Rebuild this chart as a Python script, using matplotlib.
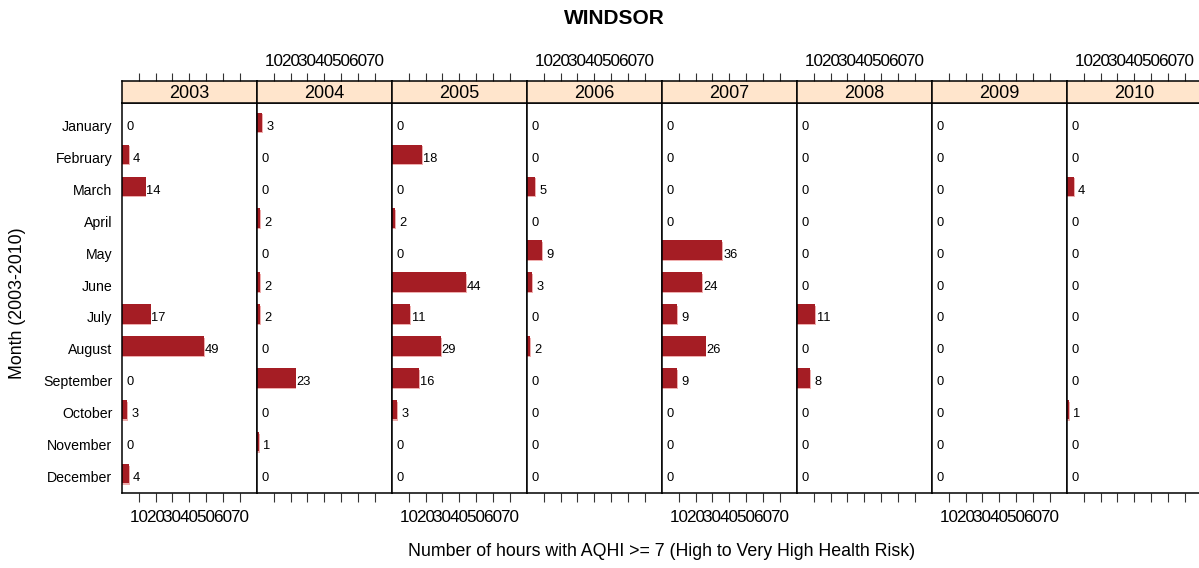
import numpy as np
import matplotlib.pyplot as plt
from matplotlib.transforms import ScaledTranslation

plt.rcParams['font.family'] = ['Liberation Sans', 'DejaVu Sans']

# ------------------------------------------
# DATA: hours with AQHI >= 7 per month, Windsor
# ------------------------------------------

months = ["January", "February", "March", "April", "May", "June", "July",
          "August", "September", "October", "November", "December"]

years = ["2003", "2004", "2005", "2006", "2007", "2008", "2009", "2010"]

h2003 = [0, 4, 14, np.nan, np.nan, np.nan, 17, 49, 0, 3, 0, 4]
h2004 = [3, 0, 0, 2, 0, 2, 2, 0, 23, 0, 1, 0]
h2005 = [0, 18, 0, 2, 0, 44, 11, 29, 16, 3, 0, 0]
h2006 = [0, 0, 5, 0, 9, 3, 0, 2, 0, 0, 0, 0]
h2007 = [0, 0, 0, 0, 36, 24, 9, 26, 9, 0, 0, 0]
h2008 = [0, 0, 0, 0, 0, 0, 11, 0, 8, 0, 0, 0]
h2009 = [0, 0, 0, 0, 0, 0, 0, 0, 0, 0, 0, 0]
h2010 = [0, 0, 4, 0, 0, 0, 0, 0, 0, 1, 0, 0]

hours = [h2003, h2004, h2005, h2006, h2007, h2008, h2009, h2010]

tick_vals = [10, 20, 30, 40, 50, 60, 70]

# ------------------------------------------
# LAYOUT (pixel based, 1199 x 568)
# ------------------------------------------

W, H = 1199, 568
fig = plt.figure(figsize=(W / 100, H / 100), dpi=100)

left_px = 122
panel_w = 135
top_px = 103
bottom_px = 493
strip_h = 22

bar_col = "#A51D24"
shadow_col = "#EFAEAE"
strip_col = "#FFE5CC"

y_pos = np.arange(len(months))
# text sits a little below the bar centre
down = ScaledTranslation(0, -3 / 100, fig.dpi_scale_trans)

for i, (year, vals) in enumerate(zip(years, hours)):
    x0 = left_px + i * panel_w
    ax = fig.add_axes([x0 / W, (H - bottom_px) / H,
                       panel_w / W, (bottom_px - top_px) / H])
    strip = fig.add_axes([x0 / W, (H - top_px) / H,
                          panel_w / W, strip_h / H])

    for j, v in enumerate(vals):
        if np.isnan(v):
            continue
        if v > 0:
            # light shadow under each bar
            ax.barh(j + 0.04, v + 0.5, height=0.6, left=0,
                    color=shadow_col, linewidth=0)
            ax.barh(j, v, height=0.6, left=0, color=bar_col, linewidth=0)
        ax.text(v + 4.8, j, "%d" % v, ha="center", va="center_baseline",
                fontsize=9.3, color="black", transform=ax.transData + down)

    ax.set_xlim(0, 80.4)
    ax.set_ylim(len(months) - 0.4, -0.6)

    for sp in ax.spines.values():
        sp.set_linewidth(1.1)
        sp.set_color("black")

    ax.set_xticks(tick_vals)
    ax.tick_params(axis="x", direction="out", length=6.5, width=0.8,
                   color="#333333", labelsize=12.3, pad=6,
                   labelbottom=(i % 2 == 0))

    if i == 0:
        ax.set_yticks(y_pos)
        ax.set_yticklabels(months, fontsize=10.2)
        ax.tick_params(axis="y", length=0, pad=7)
        for lab in ax.get_yticklabels():
            lab.set_transform(lab.get_transform() + down)
    else:
        ax.set_yticks([])

    # strip with year name and top ticks
    strip.set_facecolor(strip_col)
    strip.set_xlim(0, 80.4)
    strip.set_ylim(0, 1)
    strip.set_yticks([])
    strip.set_xticks(tick_vals)
    strip.xaxis.set_ticks_position("top")
    strip.tick_params(axis="x", direction="out", length=6, width=0.8,
                      color="#333333", labelsize=12.3, pad=3,
                      labeltop=(i % 2 == 1), labelbottom=False,
                      bottom=False)
    for sp in strip.spines.values():
        sp.set_linewidth(1.1)
    strip.text(0.5, 0.45, year, transform=strip.transAxes,
               ha="center", va="center", fontsize=13)

fig.text(614 / W, 1 - 18 / H, "WINDSOR", ha="center", va="center",
         fontsize=15, fontweight="bold")

fig.text(662 / W, 1 - 551 / H,
         "Number of hours with AQHI >= 7 (High to Very High Health Risk)",
         ha="center", va="center", fontsize=12.8)

fig.text(18 / W, 1 - 303 / H, "Month (2003-2010)", ha="center",
         va="center", rotation=90, fontsize=12.8)

plt.savefig("out.png", dpi=100)
